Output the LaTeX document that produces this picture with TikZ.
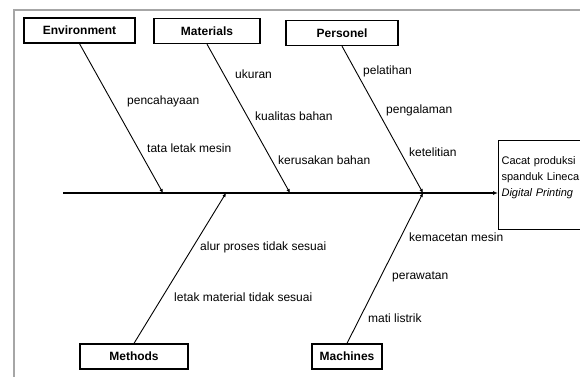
\documentclass[tikz,border=0pt]{standalone}
\usepackage{fontspec}
\setmainfont{Liberation Sans}
\usetikzlibrary{arrows.meta,positioning}

\begin{document}
\begin{tikzpicture}[
  x=1pt,y=-1pt,
  cause/.style={
    draw,
    line width=1.3pt,
    minimum height=25pt,
    inner sep=2pt,
    font=\fontsize{12}{13}\selectfont\bfseries
  },
  item/.style={
    anchor=west,
    inner sep=0pt,
    font=\fontsize{12}{13}\selectfont
  },
  bone/.style={-{Latex[length=4pt,width=3.5pt]},line width=0.9pt},
  spine/.style={-{Latex[length=5pt,width=4pt]},line width=1.2pt},
  frame/.style={draw=black!35,line width=1.5pt}
]
  \useasboundingbox (0,0) rectangle (580,376);
  \draw[frame] (14,10) rectangle (600,390);

  \node[cause,minimum width=111pt] (env) at (79.5,30.5) {Environment};
  \node[cause,minimum width=106pt] (mat) at (207,31) {Materials};
  \node[cause,minimum width=112pt] (pers) at (342,33) {Personel};
  \node[cause,minimum width=108pt] (meth) at (134,356.5) {Methods};
  \node[cause,minimum width=70pt] (mach) at (347,356.5) {Machines};

  \node[draw,line width=1.1pt,anchor=north west,text width=96pt,align=left,
    inner xsep=3pt,inner ysep=0pt,text height=24pt,text depth=65pt,
    font=\fontsize{11}{16}\selectfont] (effect) at (498,140)
    {Cacat produksi\\spanduk Lineca\\\textit{Digital Printing}};

  \coordinate (tail) at (63,193);
  \coordinate (e1) at (163,193);
  \coordinate (m1) at (290,193);
  \coordinate (p1) at (423,193);
  \coordinate (t1) at (226,193);
  \coordinate (c1) at (423,193);

  \draw[spine] (tail) -- (tail -| effect.west);
  \draw[bone] (env.south) -- (e1);
  \draw[bone] (mat.south) -- (m1);
  \draw[bone] (pers.south) -- (p1);
  \draw[bone] (meth.north) -- (t1);
  \draw[bone] (mach.north) -- (c1);

  \node[item] (light) at (127,101) {pencahayaan};
  \node[item] (layout) at (147,148) {tata letak mesin};
  \node[item] (size) at (235,74) {ukuran};
  \node[item] (quality) at (255,116) {kualitas bahan};
  \node[item] (damage) at (278,160) {kerusakan bahan};
  \node[item] (training) at (363,71) {pelatihan};
  \node[item] (exp) at (386,110) {pengalaman};
  \node[item] (care) at (409,152) {ketelitian};
  \node[item] (flow) at (200,247) {alur proses tidak sesuai};
  \node[item] (place) at (174,297) {letak material tidak sesuai};
  \node[item] (jam) at (409,237) {kemacetan mesin};
  \node[item] (maint) at (392,277) {perawatan};
  \node[item] (power) at (368,318) {mati listrik};
\end{tikzpicture}
\end{document}
